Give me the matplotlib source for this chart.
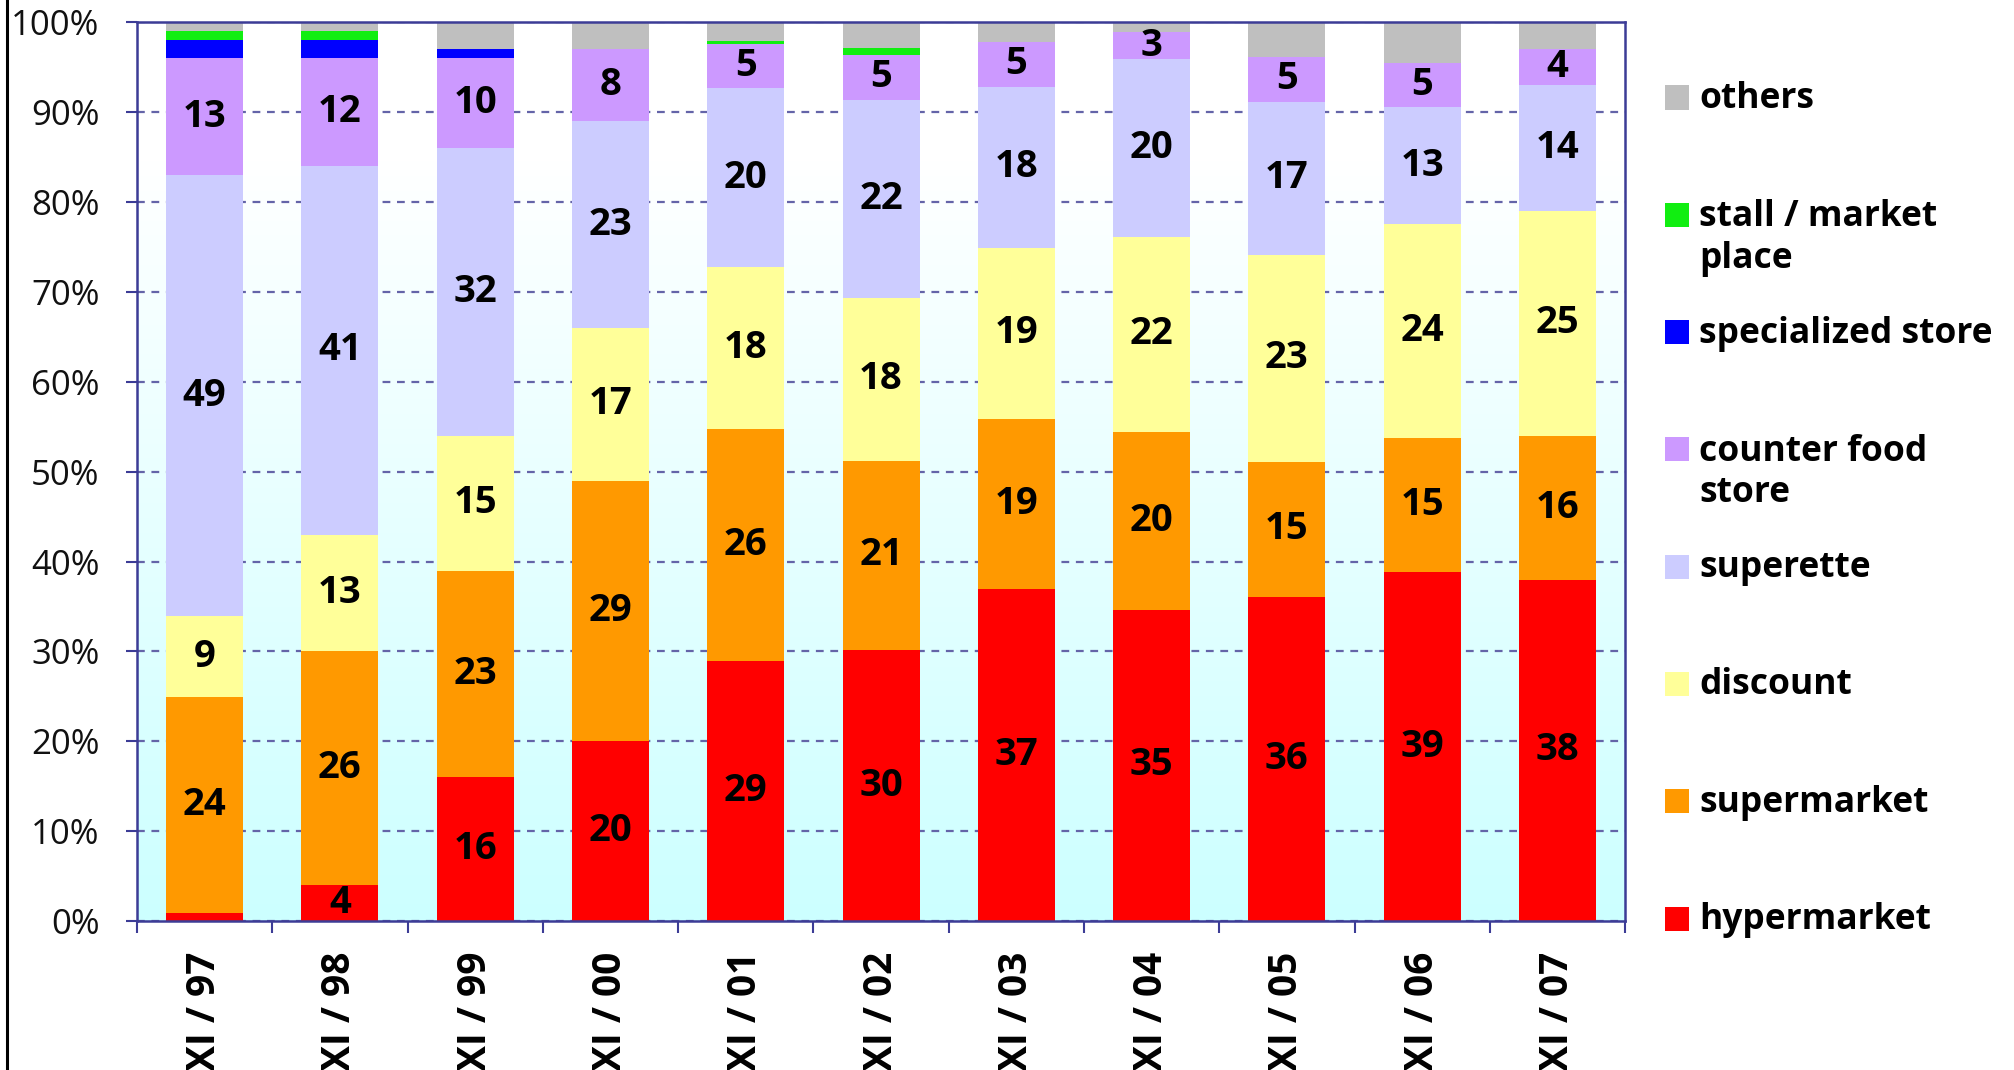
import numpy as np
import matplotlib
matplotlib.use("Agg")
import matplotlib.pyplot as plt
from matplotlib.patches import Rectangle
from matplotlib.lines import Line2D
from matplotlib.colors import LinearSegmentedColormap

plt.rcParams['font.family'] = ['Open Sans', 'DejaVu Sans']

# Survey waves (November of each year)
periods = ["XI / 97", "XI / 98", "XI / 99", "XI / 00", "XI / 01", "XI / 02",
           "XI / 03", "XI / 04", "XI / 05", "XI / 06", "XI / 07"]

# Share of shoppers by main store type (%), bottom to top of each bar
hypermarket  = [0.9, 4, 16, 20, 29, 30, 37, 35, 36, 39, 38]
supermarket  = [24, 26, 23, 29, 26, 21, 19, 20, 15, 15, 16]
discount     = [9, 13, 15, 17, 18, 18, 19, 22, 23, 24, 25]
superette    = [49, 41, 32, 23, 20, 22, 18, 20, 17, 13, 14]
counter_food = [13, 12, 10, 8, 5, 5, 5, 3, 5, 5, 4]
specialized  = [2, 2, 1, 0, 0, 0, 0, 0, 0, 0, 0]
stall        = [1, 1, 0, 0, 0.25, 0.75, 0, 0, 0, 0, 0]
others       = [1, 1, 3, 3, 2.1, 2.8, 2.15, 1.1, 3.8, 4.5, 3]

series_names = ["hypermarket", "supermarket", "discount", "superette",
                "counter food\nstore", "specialized store",
                "stall / market\nplace", "others"]
series_values = [hypermarket, supermarket, discount, superette,
                 counter_food, specialized, stall, others]
series_colors = ["#ff0000", "#ff9900", "#ffff99", "#ccccff",
                 "#cc99ff", "#0000ff", "#11ee11", "#bfbfbf"]
labelled = [True, True, True, True, True, False, False, False]

W, H = 2015, 1070
fig = plt.figure(figsize=(W / 100, H / 100), dpi=100)
fig.patch.set_facecolor("white")

ax = fig.add_axes([0.068, 0.1393, 0.7385, 0.8397])

x = np.arange(len(periods))
xmin, xmax = -0.5, len(periods) - 0.5

# soft cyan-to-white background of the plot area
grad_cmap = LinearSegmentedColormap.from_list("bg", ["#ccffff", "#ffffff"])
yy = np.linspace(0, 100, 256)
grad = np.clip(yy / 85.0, 0, 1).reshape(-1, 1)
ax.imshow(grad, cmap=grad_cmap, vmin=0, vmax=1, origin="lower",
          extent=(xmin, xmax, 0, 100), aspect="auto", zorder=0,
          interpolation="bilinear")

# 100% stacked bars
data = np.array(series_values, dtype=float)
totals = data.sum(axis=0)
shares = data / totals * 100.0
bottom = np.zeros(len(periods))
bar_w = 0.57
for name, raw, sh, col, lab in zip(series_names, data, shares,
                                   series_colors, labelled):
    ax.bar(x, sh, bar_w, bottom=bottom, color=col, edgecolor="none",
           zorder=2, label=name.replace("\n", " "))
    if lab:
        for xi, v, b, h in zip(x, raw, bottom, sh):
            if v >= 3:
                ax.text(xi, b + h / 2, "%d" % round(v), ha="center",
                        va="center", fontsize=27.5, fontweight="bold",
                        color="black", zorder=3)
    bottom += sh

ax.set_xlim(xmin, xmax)
ax.set_ylim(0, 100)

axis_col = "#3c3c96"
for sp in ax.spines.values():
    sp.set_color(axis_col)
    sp.set_linewidth(1.8)
    sp.set_zorder(4)

# y axis
ax.set_yticks(np.arange(0, 101, 10))
ax.set_yticklabels(["%d%%" % v for v in range(0, 101, 10)])
ax.tick_params(axis="y", direction="out", length=8, width=1.5,
               color=axis_col, labelsize=25, pad=19, labelcolor="#111111")

# x axis: tick marks between categories, labels at bar centres
ax.set_xticks(np.arange(xmin, xmax + 0.01, 1.0))
ax.set_xticklabels([])
ax.set_xticks(x, labels=periods, minor=True)
ax.tick_params(axis="x", which="major", direction="out", length=8.5,
               width=1.5, color=axis_col)
ax.tick_params(axis="x", which="minor", length=0, pad=22)
for t in ax.get_xticklabels(minor=True):
    t.set_rotation(90)
    t.set_fontsize(28)
    t.set_fontweight("bold")
    t.set_color("black")

# dashed horizontal gridlines behind the bars
ax.set_axisbelow(True)
ax.yaxis.grid(True, color="#6464a8", linewidth=1.6, linestyle=(0, (3.5, 3)))
ax.xaxis.grid(False)

# legend column on the right, top entry = top segment
top_y = 97.5
step = 117.3
line_gap = 42.5
for i, (name, col) in enumerate(zip(series_names[::-1], series_colors[::-1])):
    cy = top_y + i * step
    fig.add_artist(Rectangle((1665 / W, 1 - (cy + 12) / H), 24 / W, 24 / H,
                             transform=fig.transFigure, facecolor=col,
                             edgecolor="none"))
    n_lines = name.count("\n") + 1
    base = cy + 10.5 + (n_lines - 1) * line_gap
    fig.text(1699 / W, 1 - base / H, name, ha="left", va="baseline",
             fontsize=25.5, fontweight="bold", color="black",
             linespacing=1.2)

# thin frame line along the left edge
fig.add_artist(Line2D([7 / W, 7 / W], [0, 1], transform=fig.transFigure,
                      color="black", linewidth=2.2))

fig.savefig("out.png", dpi=100, facecolor="white")
